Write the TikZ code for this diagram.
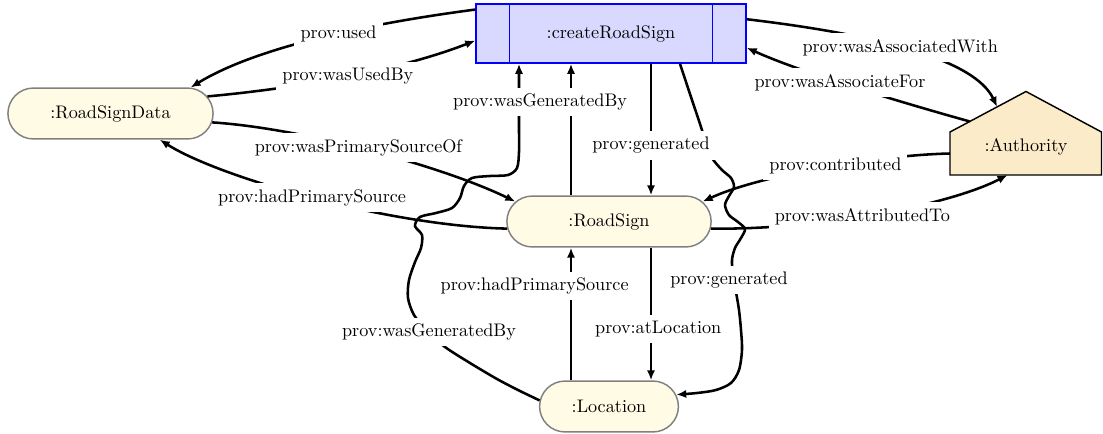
\documentclass[tikz,border=0pt]{standalone}
\usetikzlibrary{shapes.misc,calc,arrows.meta}
\definecolor{housefill}{RGB}{252,235,200}
\definecolor{thingfill}{RGB}{255,251,228}

\begin{document}
\begin{tikzpicture}[x=0.55pt,y=-0.55pt]
    \tikzstyle{thing}=[rounded rectangle,fill=thingfill,draw=gray,thick,minimum height=28pt]
    \tikzstyle{activity}=[rectangle,fill=blue!15,draw=blue,thick,minimum width=148.5pt,minimum height=32.5pt]
    \tikzstyle{lbl}=[fill=white]
    \pgfsetarrowsend{Latex[length=5.5pt,width=4.5pt]}
    \tikzstyle{fwd} = [draw=black, line width=1.4pt]

    \useasboundingbox (0,0) rectangle (1103,434);

    \node[activity]  (crs) at (611,33.5) {:createRoadSign};
    \draw[blue,thick,-] ($(crs.north west)+(34,0)$) -- ($(crs.south west)+(34,0)$);
    \draw[blue,thick,-] ($(crs.north east)+(-34,0)$) -- ($(crs.south east)+(-34,0)$);

    \node[thing,minimum width=119.5pt]  (rsd) at (110.5,113.5) {:RoadSignData};
    \node[thing,minimum width=119pt]    (rs)  at (609,221.5) {:RoadSign};
    \node[thing,minimum width=83pt]     (loc) at (609,406.5) {:Location};

    \coordinate (hbl)  at (950,175);
    \coordinate (hwl)  at (950,132);
    \coordinate (htop) at (1026,91.5);
    \coordinate (hwr)  at (1101.5,132);
    \coordinate (hbr)  at (1101.5,175);
    \draw[fill=housefill,thick] (hbl) -- (hwl) -- (htop) -- (hwr) -- (hbr) -- cycle;
    \node (auth) at (1026,147) {:Authority};

    \coordinate (gbtop)  at ($(crs.south)+(-92,0)$);
    \coordinate (gentop) at ($(crs.south)+(69,0)$);

   \draw [fwd] plot[smooth] coordinates {(loc.175) (518,390) (497,379) (470,363) (445,347) (427,331) (414,315) (408,298) (409,280) (415,262) (421,248) (422,235) (415,226) (420,217) (436,213) (452,208) (460,198) (464,186) (472,178) (490,176) (508,175) (517,168) (519,152) (519,130) (519,105) (519,84) (gbtop)};
   \node[lbl] (lgb2) at (429,332) {prov:wasGeneratedBy};

   \draw [fwd] plot[smooth] coordinates {(gentop) (687,85) (694,106) (701,127) (706,143) (712,158) (722,170) (731,178) (734,187) (729,196) (725,205) (729,215) (738,222) (745,229) (741,238) (735,248) (732,260) (733,275) (736,292) (739,310) (741,330) (742,350) (739,370) (731,383) (716,390) (697,393) (loc.10)};
   \node[lbl] (lgen2) at (729,280) {prov:generated};

   \draw [fwd] (crs.170) .. controls (380,22) and (260,45) .. node[lbl,pos=0.45] (lused) {prov:used} (rsd.18);
   \draw [fwd] (rsd.10) .. controls (300,88) and (400,70) .. node[lbl] (lusedby) {prov:wasUsedBy} (crs.183);
   \draw [fwd] (rsd.-5) .. controls (300,128) and (440,165) .. node[lbl,pos=0.47] (lpsof) {prov:wasPrimarySourceOf} (rs.168);
   \draw [fwd] (rs.184) .. controls (390,226) and (220,178) .. node[lbl] (lhps1) {prov:hadPrimarySource} (rsd.-28);

   \draw [fwd] ($(rs.north)+(-38,0)$) -- node[lbl,pos=0.71,xshift=-17pt] (lgb1) {prov:wasGeneratedBy} ($(crs.south)+(-40,0)$);
   \draw [fwd] ($(crs.south)+(40,0)$) -- node[lbl,pos=0.62] (lgen1) {prov:generated} ($(rs.north)+(42,0)$);
   \draw [fwd] ($(rs.south)+(42,0)$) -- node[lbl,pos=0.61,xshift=4pt] (latloc) {prov:atLocation} ($(loc.north)+(42,0)$);
   \draw [fwd] ($(loc.north)+(-38,0)$) -- node[lbl,pos=0.71,xshift=-20pt] (lhps2) {prov:hadPrimarySource} ($(rs.south)+(-38,0)$);

   \draw [fwd] (crs.6) .. controls (880,35) and (975,60) .. node[lbl,pos=0.45] (lassoc) {prov:wasAssociatedWith} ($(hwl)!0.62!(htop)$);
   \draw [fwd] ($(hwl)!0.26!(htop)$) .. controls (900,102) and (800,72) .. node[lbl,pos=0.55] (lassocfor) {prov:wasAssociateFor} (crs.-6);
   \draw [fwd] ($(hbl)!0.5!(hwl)$) .. controls (880,155) and (760,175) .. node[lbl,pos=0.45] (lcontrib) {prov:contributed} (rs.12);
   \draw [fwd] (rs.-4) .. controls (820,230) and (950,205) .. node[lbl,pos=0.45] (lattr) {prov:wasAttributedTo} ($(hbl)!0.38!(hbr)$);

\end{tikzpicture}
\end{document}
